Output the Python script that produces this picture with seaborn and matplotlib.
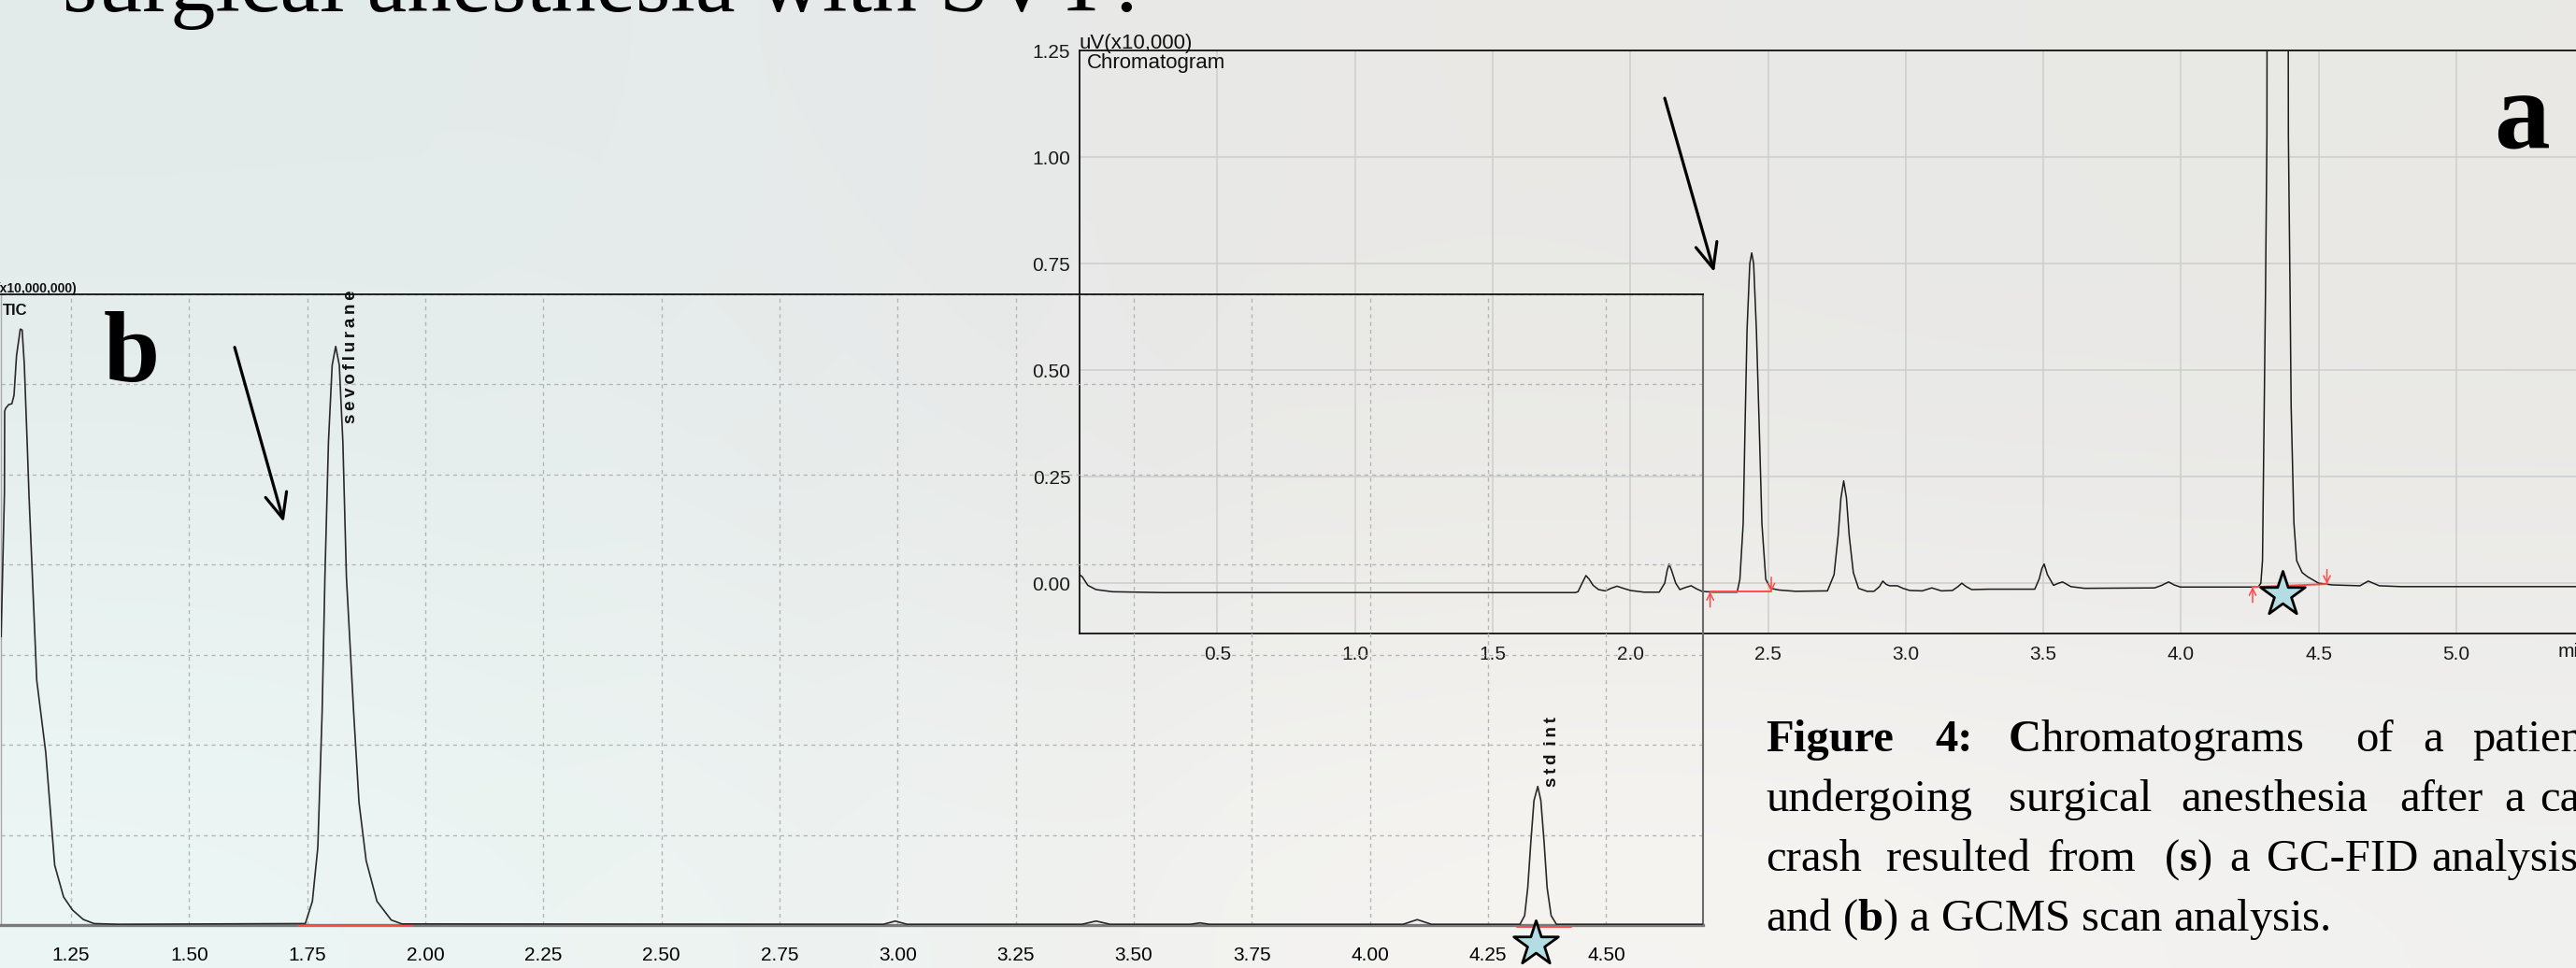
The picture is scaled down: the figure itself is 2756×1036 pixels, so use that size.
import numpy as np
import pandas as pd
import matplotlib
matplotlib.use("Agg")
import matplotlib.pyplot as plt
from matplotlib import font_manager as fm
from matplotlib.ticker import MultipleLocator
import seaborn as sns

# ---------------- data ----------------
# (a) GC-FID chromatogram: retention time (min) and signal (uV x10,000)
fid_time = [
    0.000, 0.010, 0.030, 0.060, 0.120, 0.300, 1.000, 1.800,
    1.810, 1.825, 1.839, 1.850, 1.865, 1.885, 1.910, 1.930, 1.952, 1.975, 2.000, 2.050, 2.105,
    2.125, 2.134, 2.141, 2.150, 2.165, 2.180, 2.200, 2.221, 2.240, 2.260, 2.300, 2.388,
    2.398, 2.410, 2.417, 2.424, 2.434, 2.441, 2.448, 2.458, 2.468, 2.478, 2.492, 2.510, 2.540, 2.600, 2.716,
    2.740, 2.755, 2.765, 2.775, 2.785, 2.795, 2.810, 2.829, 2.860, 2.885,
    2.905, 2.917, 2.930, 2.942, 2.970, 2.990, 3.015, 3.060, 3.095, 3.130, 3.170, 3.190, 3.204, 3.220, 3.240, 3.300, 3.469,
    3.485, 3.495, 3.503, 3.515, 3.537, 3.555, 3.570, 3.600, 3.650, 3.904, 3.930, 3.955, 3.975, 3.998, 4.100, 4.280,
    4.290, 4.296, 4.307, 4.312, 4.350, 4.390, 4.396, 4.400, 4.410, 4.420, 4.440, 4.460, 4.500, 4.550, 4.650, 4.680, 4.720, 4.800, 5.600,
]
fid_signal = [
    0.020, 0.015, -0.005, -0.015, -0.020, -0.022, -0.022, -0.022,
    -0.020, 0.000, 0.018, 0.010, -0.005, -0.015, -0.018, -0.012, -0.007, -0.012, -0.017, -0.021, -0.021,
    0.000, 0.030, 0.045, 0.030, 0.000, -0.015, -0.010, -0.006, -0.013, -0.019, -0.021, -0.021,
    0.009, 0.140, 0.375, 0.594, 0.750, 0.775, 0.750, 0.594, 0.375, 0.140, 0.009, -0.012, -0.016, -0.019, -0.018,
    0.020, 0.112, 0.200, 0.240, 0.200, 0.112, 0.025, -0.012, -0.019, -0.019,
    -0.008, 0.005, -0.003, -0.006, -0.006, -0.012, -0.017, -0.018, -0.011, -0.018, -0.017, -0.008, 0.000, -0.008, -0.015, -0.014, -0.014,
    0.010, 0.035, 0.045, 0.020, -0.005, 0.000, 0.003, -0.008, -0.012, -0.011, -0.005, 0.003, -0.004, -0.009, -0.009, -0.009,
    0.000, 0.053, 0.690, 1.050, 20.000, 1.050, 0.690, 0.415, 0.142, 0.053, 0.025, 0.015, 0.000, -0.004, -0.006, 0.005, -0.006, -0.008, -0.008,
]
fid_xticks = [0.5, 1.0, 1.5, 2.0, 2.5, 3.0, 3.5, 4.0, 4.5, 5.0]
fid_xticklabels = ["0.5", "1.0", "1.5", "2.0", "2.5", "3.0", "3.5", "4.0", "4.5", "5.0"]
fid_yticks = [0.00, 0.25, 0.50, 0.75, 1.00, 1.25]
fid_yticklabels = ["0.00", "0.25", "0.50", "0.75", "1.00", "1.25"]
# integration baselines (start / end of the red marks) and the flagged peak
fid_int_x0 = [2.290, 4.260]
fid_int_y0 = [-0.020, -0.009]
fid_int_x1 = [2.512, 4.530]
fid_int_y1 = [-0.020, -0.002]
fid_star_x = [4.370]
fid_star_y = [-0.025]

# (b) GCMS TIC chromatogram: retention time (min) and intensity (x10,000,000)
ms_time = [
    1.1020, 1.1090, 1.1095, 1.1115, 1.1180, 1.1248, 1.1293, 1.1346, 1.1426, 1.1465, 1.1511, 1.1576, 1.1610,
    1.1774, 1.1964, 1.2154, 1.2342, 1.2532, 1.2758, 1.2987, 1.3500,
    1.7460, 1.7610, 1.7725, 1.7816, 1.7875, 1.7950, 1.8028, 1.8103, 1.8180, 1.8255, 1.8330, 1.8483,
    1.8596, 1.8748, 1.8976, 1.9278, 1.9506,
    2.9700, 2.9950, 3.0200, 3.3900, 3.4200, 3.4500, 3.6200, 3.6400, 3.6600, 4.0700, 4.1000, 4.1300,
    4.3175, 4.3274, 4.3340, 4.3407, 4.3472, 4.3552, 4.3617, 4.3684, 4.3750, 4.3835, 4.3947, 4.7050,
]
ms_signal = [
    1.600, 2.400, 2.850, 2.867, 2.888, 2.893, 2.940, 3.160, 3.307, 3.302, 3.110, 2.644, 2.385,
    1.358, 0.959, 0.332, 0.156, 0.083, 0.031, 0.008, 0.004,
    0.008, 0.132, 0.432, 1.182, 1.932, 2.681, 3.106, 3.211, 3.106, 2.681, 1.932, 1.182,
    0.682, 0.357, 0.132, 0.028, 0.006,
    0.004, 0.022, 0.004, 0.004, 0.022, 0.004, 0.004, 0.012, 0.004, 0.004, 0.030, 0.004,
    0.004, 0.052, 0.207, 0.467, 0.691, 0.769, 0.691, 0.467, 0.207, 0.052, 0.004, 0.004,
]
ms_xticks = [1.25, 1.50, 1.75, 2.00, 2.25, 2.50, 2.75, 3.00, 3.25, 3.50, 3.75, 4.00, 4.25, 4.50]
ms_xticklabels = ["1.25", "1.50", "1.75", "2.00", "2.25", "2.50", "2.75", "3.00",
                  "3.25", "3.50", "3.75", "4.00", "4.25", "4.50"]
ms_yticks = [0.0, 0.5, 1.0, 1.5, 2.0, 2.5, 3.0, 3.5]
ms_int_x0 = [1.731, 4.312]
ms_int_x1 = [1.973, 4.426]
ms_int_y = [-0.005, -0.010]
ms_star_x = [4.351]
ms_star_y = [-0.104]
ms_peak_names = ["s\u2009e\u2009v\u2009o\u2009f\u2009l\u2009u\u2009r\u2009a\u2009n\u2009e",
                 "s\u2009t\u2009d\u2009 i\u2009n\u2009t"]
ms_peak_label_x = [1.8425, 4.3846]
ms_peak_label_y = [2.784, 0.767]

title_text = "surgical anesthesia with SVT?"
caption_lines = [
    [("Figure", "bold"), ("4:", "bold"), (r"$\mathbf{C}$hromatograms", "normal"), ("of", "normal"),
     ("a", "normal"), ("patient", "normal")],
    [("undergoing", "normal"), ("surgical", "normal"), ("anesthesia", "normal"), ("after", "normal"),
     ("a", "normal"), ("car", "normal")],
    [("crash", "normal"), ("resulted", "normal"), ("from", "normal"), (r"($\mathbf{s}$)", "normal"),
     ("a", "normal"), ("GC-FID", "normal"), ("analysis", "normal")],
    [(r"and ($\mathbf{b}$) a GCMS scan analysis.", "normal")],
]
caption_word_x = [
    [1889, 2070, 2148, 2520, 2592, 2645],
    [1889, 2149, 2333, 2567, 2679, 2717],
    [1889, 2018, 2191, 2315, 2385, 2425, 2601],
    [1889],
]
caption_baseline = [804, 868, 932, 996]

# ---------------- styling ----------------
W, H = 2756, 1036
sns.set_theme(style="white")
plt.rcParams["font.family"] = ["Liberation Sans", "DejaVu Sans"]
plt.rcParams["mathtext.fontset"] = "custom"
plt.rcParams["mathtext.rm"] = "Liberation Serif"
plt.rcParams["mathtext.it"] = "Liberation Serif:italic"
plt.rcParams["mathtext.bf"] = "Liberation Serif:bold"

RED = "#ff4a4a"
STAR = "#b3dde2"


def fx(px):
    return px / W


def fy(py):
    return 1 - py / H


fig = plt.figure(figsize=(W / 100, H / 100), dpi=100)

# decorative slide background (soft colour wash)
bg_rgb = np.array([
    [[226, 234, 234], [229, 235, 235], [232, 232, 232], [234, 233, 229], [232, 232, 231], [233, 232, 228]],
    [[231, 240, 239], [230, 238, 237], [232, 233, 232], [235, 234, 230], [233, 233, 232], [234, 233, 230]],
    [[236, 246, 244], [236, 244, 242], [240, 241, 239], [247, 245, 242], [246, 244, 241], [241, 241, 240]],
]) / 255.0
bg = fig.add_axes([0, 0, 1, 1], zorder=-10)
bg.imshow(bg_rgb, extent=[0, 1, 0, 1], aspect="auto", interpolation="bicubic")
bg.set_axis_off()

# ---------------- panel a (GC-FID) ----------------
px_per_min_a = 294.6
ax_a = fig.add_axes([fx(1155), fy(678), 5.6 * px_per_min_a / W, (678 - 54) / H])
ax_a.set_facecolor("none")
fid = pd.DataFrame({"time": fid_time, "signal": fid_signal})
sns.lineplot(data=fid, x="time", y="signal", ax=ax_a, color="#1c1c1c", lw=1.1,
             sort=False, estimator=None, zorder=3)
ax_a.set_xlim(0, 5.6)
ax_a.set_ylim(-0.118, 1.25)
ax_a.set_xticks(fid_xticks)
ax_a.set_xticklabels(fid_xticklabels)
ax_a.set_yticks(fid_yticks)
ax_a.set_yticklabels(fid_yticklabels)
ax_a.xaxis.set_minor_locator(MultipleLocator(0.1))
ax_a.yaxis.set_minor_locator(MultipleLocator(0.05))
ax_a.set_axisbelow(True)
ax_a.grid(True, which="major", color="#cdcdcd", lw=1.1)
ax_a.set_xlabel("")
ax_a.set_ylabel("")
ax_a.tick_params(axis="both", which="both", direction="out", colors="#333333",
                 labelcolor="#1a1a1a", labelsize=15)
ax_a.tick_params(axis="both", which="major", length=4, width=1)
ax_a.tick_params(axis="both", which="minor", length=3, width=1)
ax_a.tick_params(axis="x", which="major", pad=5)
ax_a.tick_params(axis="y", which="major", pad=3)
for s in ["left", "top", "bottom"]:
    ax_a.spines[s].set_color("#111111")
    ax_a.spines[s].set_linewidth(1.3)
ax_a.spines["right"].set_visible(False)

for x0, y0, x1, y1 in zip(fid_int_x0, fid_int_y0, fid_int_x1, fid_int_y1):
    ax_a.plot([x0, x1], [y0, y1], color=RED, lw=1.4, zorder=4)
    ax_a.annotate("", xy=(x0, y0), xytext=(x0, y0 - 0.036),
                  arrowprops=dict(arrowstyle="->", color=RED, lw=1.1, mutation_scale=13,
                                  shrinkA=0, shrinkB=0), zorder=4)
    ax_a.annotate("", xy=(x1, y1), xytext=(x1, y1 + 0.034),
                  arrowprops=dict(arrowstyle="->", color=RED, lw=1.1, mutation_scale=13,
                                  shrinkA=0, shrinkB=0), zorder=4)

sns.scatterplot(x=fid_star_x, y=fid_star_y, ax=ax_a, marker="*", s=1300, color=STAR,
                edgecolor="black", linewidth=2.0, zorder=6, clip_on=False, legend=False)

ax_a.annotate("uV(x10,000)", xy=(0, 1), xycoords="axes fraction", xytext=(0, 1.5),
              textcoords="offset points", ha="left", va="baseline", fontsize=16, color="#111111")
ax_a.annotate("Chromatogram", xy=(0, 1), xycoords="axes fraction", xytext=(5.5, -13.8),
              textcoords="offset points", ha="left", va="baseline", fontsize=16, color="#111111")
ax_a.text(5.37, -0.160, "min", ha="left", va="center", fontsize=15, color="#1a1a1a")

ax_a.annotate("", xy=(2.305, 0.730), xytext=(2.125, 1.138),
              arrowprops=dict(arrowstyle="->,head_length=0.8,head_width=0.35", color="black",
                              lw=2.3, mutation_scale=24, shrinkA=0, shrinkB=0), zorder=5)

# ---------------- panel b (GCMS TIC) ----------------
ax_b = fig.add_axes([fx(1), fy(990), 1821 / W, 675 / H])
ax_b.set_facecolor("none")
ms = pd.DataFrame({"time": ms_time, "intensity": ms_signal})
sns.lineplot(data=ms, x="time", y="intensity", ax=ax_b, color="#2a2a2a", lw=1.2,
             sort=False, estimator=None, zorder=3)
ax_b.set_xlim(1.1016, 4.705)
ax_b.set_ylim(0, 3.5)
ax_b.set_xticks(ms_xticks)
ax_b.set_xticklabels(ms_xticklabels)
ax_b.set_yticks(ms_yticks)
ax_b.xaxis.set_minor_locator(MultipleLocator(0.05))
ax_b.set_axisbelow(True)
ax_b.grid(True, which="major", color="#b5b5b5", lw=1.0, ls=(0, (3, 3)))
ax_b.set_xlabel("")
ax_b.set_ylabel("")
ax_b.tick_params(axis="y", left=False, labelleft=False)
ax_b.tick_params(axis="x", which="both", direction="out", colors="#555555", labelcolor="black",
                 labelsize=15)
ax_b.tick_params(axis="x", which="major", length=9.4, width=1.1, pad=7.5)
ax_b.tick_params(axis="x", which="minor", length=5, width=1.1)
ax_b.spines["top"].set_color("#111111")
ax_b.spines["top"].set_linewidth(1.3)
ax_b.spines["right"].set_color("#6a6a6a")
ax_b.spines["right"].set_linewidth(1.5)
ax_b.spines["bottom"].set_color("#7a7a7a")
ax_b.spines["bottom"].set_linewidth(2.4)
ax_b.spines["left"].set_color("#aaaaaa")
ax_b.spines["left"].set_linewidth(1.0)

for x0, x1, y in zip(ms_int_x0, ms_int_x1, ms_int_y):
    ax_b.plot([x0, x1], [y, y], color=RED, lw=1.4, zorder=4, clip_on=False)
    ax_b.annotate("", xy=(x1, y), xytext=(x1, y + 0.09),
                  arrowprops=dict(arrowstyle="->", color=RED, lw=1.1, mutation_scale=13,
                                  shrinkA=0, shrinkB=0), zorder=4)

sns.scatterplot(x=ms_star_x, y=ms_star_y, ax=ax_b, marker="*", s=1300, color=STAR,
                edgecolor="black", linewidth=2.0, zorder=6, clip_on=False, legend=False)

for name, lx, ly in zip(ms_peak_names, ms_peak_label_x, ms_peak_label_y):
    ax_b.text(lx, ly, name, rotation=90, ha="center", va="bottom", fontsize=13.5,
              fontweight="bold", color="#111111", family=["Liberation Sans", "DejaVu Sans"])

ax_b.annotate("(x10,000,000)", xy=(0, 1), xycoords="axes fraction", xytext=(58.5, 1.2),
              textcoords="offset points", ha="right", va="baseline", fontsize=10,
              fontweight="bold", color="#111111")
ax_b.annotate("TIC", xy=(0, 1), xycoords="axes fraction", xytext=(1.5, -15.6),
              textcoords="offset points", ha="left", va="baseline", fontsize=12,
              fontweight="bold", color="#111111")

ax_b.annotate("", xy=(1.7005, 2.236), xytext=(1.5964, 3.206),
              arrowprops=dict(arrowstyle="->,head_length=0.8,head_width=0.35", color="black",
                              lw=2.3, mutation_scale=24, shrinkA=0, shrinkB=0), zorder=5)

# ---------------- slide texts ----------------
fig.text(fx(67), fy(12), title_text, fontsize=69, family="Liberation Serif",
         ha="left", va="baseline", color="black")
fig.text(fx(111), fy(408), "b", fontsize=78, fontweight="bold", family="Liberation Serif",
         ha="left", va="baseline", color="black")
fig.text(fx(2668), fy(158), "a", fontsize=86, fontweight="bold", family="Liberation Serif",
         ha="left", va="baseline", color="black")

for words, xs, yb in zip(caption_lines, caption_word_x, caption_baseline):
    for (word, weight), xp in zip(words, xs):
        fig.text(fx(xp), fy(yb), word, fontsize=35, fontweight=weight,
                 family="Liberation Serif", ha="left", va="baseline", color="black")

fig.savefig("out.png", dpi=100)
